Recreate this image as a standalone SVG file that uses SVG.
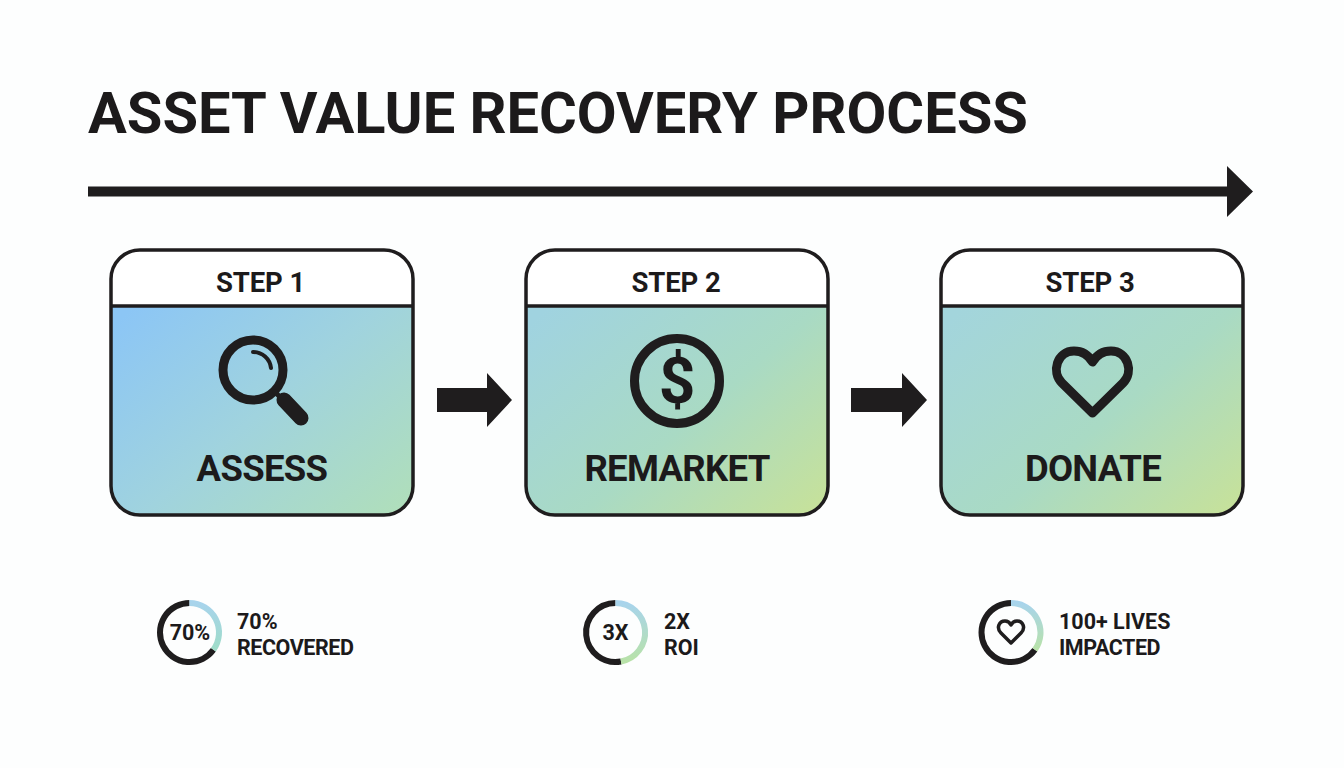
<svg xmlns="http://www.w3.org/2000/svg" width="1344" height="768" viewBox="0 0 1344 768">
<style>
text{font-family:Roboto,"Liberation Sans",sans-serif;font-weight:700;fill:#1c1a1b}
.t{font-size:57.800px}
.s{font-size:27.500px;text-anchor:middle;letter-spacing:-.1px}
.n{font-size:36.500px;text-anchor:middle;letter-spacing:-.7px}
.m{font-size:21.500px}
.q{letter-spacing:-.45px}
.c{font-size:21.500px;text-anchor:middle}
.card{stroke:#1f1d1e;stroke-width:3.500;fill:none}
.ln{stroke:#1f1d1e;stroke-width:3.500}
.ic{fill:none;stroke:#1f1d1e;stroke-linecap:round;stroke-linejoin:round}
.arc{fill:none;stroke-width:6}
.k{stroke:#1f1d1e}
.ar{fill:#1f1d1e}
</style>
<defs>
<linearGradient id="g1" x1="0" y1=".1" x2="1" y2=".9"><stop offset="0" stop-color="#8cc6f5"/><stop offset="0.5" stop-color="#a0d3de"/><stop offset="1" stop-color="#afdebc"/></linearGradient>
<linearGradient id="g2" x1="0" y1=".1" x2="1" y2=".9"><stop offset="0" stop-color="#a0d3e0"/><stop offset="0.55" stop-color="#a9dac4"/><stop offset="1" stop-color="#c5e19c"/></linearGradient>
<linearGradient id="g3" x1="0" y1=".1" x2="1" y2=".9"><stop offset="0" stop-color="#a3d5dc"/><stop offset="0.55" stop-color="#a9dac4"/><stop offset="1" stop-color="#c5e19c"/></linearGradient>
<linearGradient id="r1" x1="0" y1="0" x2="0" y2="1"><stop offset="0" stop-color="#a8d4ec"/><stop offset="1" stop-color="#9edcc8"/></linearGradient>
<linearGradient id="r2" x1="0" y1="0" x2="0" y2="1"><stop offset="0" stop-color="#a8d4ec"/><stop offset="1" stop-color="#b8e2a8"/></linearGradient>
</defs>
<rect width="1344" height="768" fill="#fdfefe"/>
<text id="title" class="t" x="88" y="133">ASSET VALUE RECOVERY PROCESS</text>
<g id="connectors">
<path class="ar" d="M88 186.500H1227V166L1253 191.500L1227 217V196.500H88Z"/>
<path class="ar" d="M437 388H487V373L512 400L487 427V412H437Z"/>
<path class="ar" d="M851 388H902V373L927 400L902 427V412H851Z"/>
</g>
<g id="step1">
<path fill="#fff" d="M111 306V279a29 29 0 0 1 29-29H384a29 29 0 0 1 29 29V306Z"/>
<path fill="url(#g1)" d="M111 306V486a29 29 0 0 0 29 29H384a29 29 0 0 0 29-29V306Z"/>
<rect class="card" x="111" y="250" width="302" height="265" rx="29"/>
<path class="ln" d="M111 306H413"/>
<text class="s" x="260.500" y="292">STEP 1</text>
<circle class="ic" cx="253" cy="370" r="30" stroke-width="9"/>
<path class="ic" d="M253 352a18 18 0 0 1 18 16" stroke-width="4" stroke-linecap="butt"/>
<path class="ic" d="M275 392L282 399" stroke-width="5"/>
<path class="ic" d="M284 400L301 418" stroke-width="15"/>
<text class="n" x="262" y="481">ASSESS</text>
</g>
<g id="step2">
<path fill="#fff" d="M526 306V279a29 29 0 0 1 29-29H799a29 29 0 0 1 29 29V306Z"/>
<path fill="url(#g2)" d="M526 306V486a29 29 0 0 0 29 29H799a29 29 0 0 0 29-29V306Z"/>
<rect class="card" x="526" y="250" width="302" height="265" rx="29"/>
<path class="ln" d="M526 306H828"/>
<text class="s" x="676" y="292">STEP 2</text>
<circle class="ic" cx="677" cy="381" r="42.500" stroke-width="9"/>
<text x="677" y="403" text-anchor="middle" font-size="64">$</text>
<text class="n" x="677" y="481">REMARKET</text>
</g>
<g id="step3">
<path fill="#fff" d="M941 306V279a29 29 0 0 1 29-29H1214a29 29 0 0 1 29 29V306Z"/>
<path fill="url(#g3)" d="M941 306V486a29 29 0 0 0 29 29H1214a29 29 0 0 0 29-29V306Z"/>
<rect class="card" x="941" y="250" width="302" height="265" rx="29"/>
<path class="ln" d="M941 306H1243"/>
<text class="s" x="1090" y="292">STEP 3</text>
<path class="ic" stroke-width="9" d="M1092.500 413L1062 383C1051 372 1057 351 1074 351C1083 351 1089 356 1092.500 362C1096 356 1102 351 1111 351C1128 351 1134 372 1123 383Z"/>
<text class="n" x="1093" y="481">DONATE</text>
</g>
<g id="stat1">
<path class="arc k" d="M189.500 603A29.500 29.500 0 1 0 213.400 649.800"/>
<path class="arc" stroke="url(#r1)" d="M189.500 603A29.500 29.500 0 0 1 213.400 649.800"/>
<text class="c" x="190" y="640" font-size="21">70%</text>
<text class="m" x="237" y="629">70%</text>
<text class="m q" x="237" y="655">RECOVERED</text>
</g>
<g id="stat2">
<path class="arc k" d="M615.500 603A29.500 29.500 0 1 0 621 661.500"/>
<path class="arc" stroke="url(#r2)" d="M615.500 603A29.500 29.500 0 0 1 621 661.500"/>
<text class="c" x="615.500" y="640">3X</text>
<text class="m" x="664" y="629">2X</text>
<text class="m" x="664" y="655">ROI</text>
</g>
<g id="stat3">
<path class="arc k" d="M1011 603A29.500 29.500 0 1 0 1034.900 649.800"/>
<path class="arc" stroke="url(#r2)" d="M1011 603A29.500 29.500 0 0 1 1034.900 649.800"/>
<path class="ic" stroke-width="3.500" d="M1011 643L1001 633C996 628 999 621 1005 621C1008 621 1010 623 1011 625C1012 623 1014 621 1017 621C1023 621 1026 628 1021 633Z"/>
<text class="m" x="1059" y="629">100+ LIVES</text>
<text class="m q" x="1059" y="655">IMPACTED</text>
</g>
</svg>
